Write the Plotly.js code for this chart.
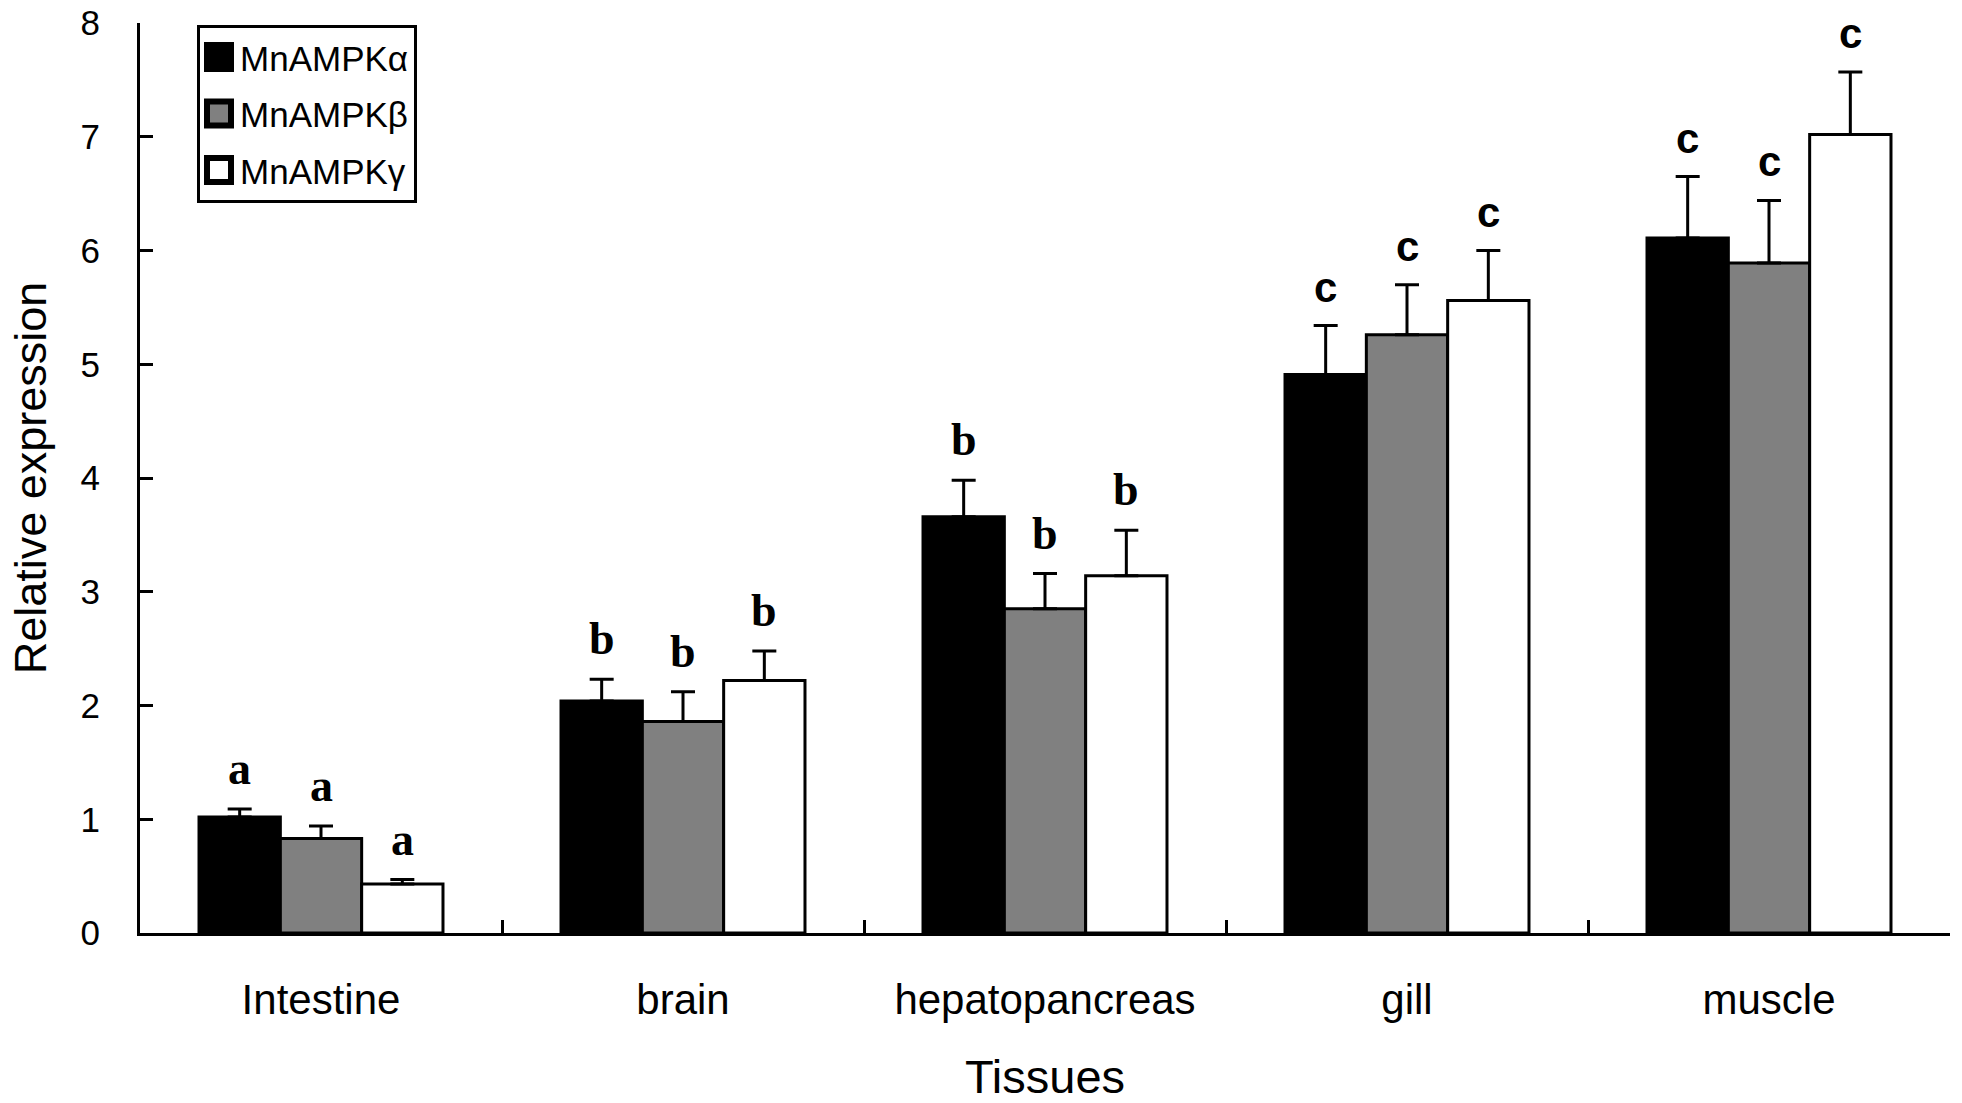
<!DOCTYPE html>
<html>
<head>
<meta charset="utf-8">
<script src="https://cdn.plot.ly/plotly-3.0.1.min.js"></script>
<style>
  body { margin: 0; background: #fff; }
  #chart { width: 1962px; height: 1103px; }
</style>
</head>
<body>
<div id="chart"></div>
<script>
// tissues on the x axis
var tissues = ['Intestine', 'brain', 'hepatopancreas', 'gill', 'muscle'];

// MnAMPK subunits, relative expression and upper error
var alphaVals = [1.02, 2.04, 3.66, 4.91, 6.11];
var alphaErr  = [0.07, 0.19, 0.32, 0.43, 0.54];
var betaVals  = [0.83, 1.86, 2.85, 5.26, 5.89];
var betaErr   = [0.11, 0.26, 0.31, 0.44, 0.55];
var gammaVals = [0.43, 2.22, 3.14, 5.56, 7.02];
var gammaErr  = [0.04, 0.26, 0.40, 0.44, 0.55];

// significance letters
var alphaLetters = ['a', 'b', 'b', 'c', 'c'];
var betaLetters  = ['a', 'b', 'b', 'c', 'c'];
var gammaLetters = ['a', 'b', 'b', 'c', 'c'];

var zeros = [0, 0, 0, 0, 0];
var bargap = 0.326;

function barTrace(name, vals, err, fill, group) {
  return {
    type: 'bar',
    name: name,
    x: tissues,
    y: vals,
    legendgroup: group,
    marker: { color: fill, line: { color: '#000', width: 3 } },
    error_y: {
      type: 'data', symmetric: false, array: err, arrayminus: zeros,
      color: '#000', thickness: 3, width: 12
    },
    hoverinfo: 'x+y'
  };
}

var data = [
  barTrace('MnAMPKα', alphaVals, alphaErr, '#000000', 'g1'),
  barTrace('MnAMPKβ', betaVals, betaErr, '#808080', 'g2'),
  barTrace('MnAMPKγ', gammaVals, gammaErr, '#ffffff', 'g3')
];

// the figure mixes a serif a/b with a sans c
function letterFont(t) {
  if (t === 'c') return { family: 'Liberation Sans', size: 42, color: '#000', weight: 'bold' };
  return { family: 'Liberation Serif', size: 46, color: '#000', weight: 'bold' };
}

// letters above each error bar, placed in category units
var annotations = [];
var sets = [[alphaVals, alphaErr, alphaLetters],
            [betaVals, betaErr, betaLetters],
            [gammaVals, gammaErr, gammaLetters]];
var bw = (1 - bargap) / 3;
sets.forEach(function (s, k) {
  for (var i = 0; i < tissues.length; i++) {
    annotations.push({
      x: i + (k - 1) * bw,
      y: s[0][i] + s[1][i],
      xref: 'x', yref: 'y',
      text: s[2][i],
      showarrow: false,
      yanchor: 'bottom',
      yshift: 13,
      font: letterFont(s[2][i])
    });
  }
});

var layout = {
  width: 1962,
  height: 1103,
  margin: { l: 140, r: 12, t: 23, b: 170 },
  paper_bgcolor: '#fff',
  plot_bgcolor: '#fff',
  barmode: 'group',
  bargap: bargap,
  bargroupgap: 0,
  font: { family: 'Liberation Sans', color: '#000' },
  showlegend: true,
  legend: {
    x: 0.0315, y: 0.998, xanchor: 'left', yanchor: 'top',
    bgcolor: '#fff', bordercolor: '#000', borderwidth: 3,
    font: { family: 'Liberation Sans', size: 35, color: '#000' },
    tracegroupgap: 8,
    traceorder: 'grouped'
  },
  xaxis: {
    type: 'category',
    showline: true, linecolor: '#000', linewidth: 3,
    ticks: 'inside', tickson: 'boundaries', ticklen: 13, tickwidth: 3, tickcolor: '#000',
    ticklabelstandoff: 28,
    tickfont: { family: 'Liberation Sans', size: 42, color: '#000' },
    showgrid: false, zeroline: false,
    title: { text: 'Tissues', font: { family: 'Liberation Sans', size: 47, color: '#000' }, standoff: 48 }
  },
  yaxis: {
    range: [0, 8],
    dtick: 1,
    showline: true, linecolor: '#000', linewidth: 3,
    ticks: 'inside', ticklen: 13, tickwidth: 3, tickcolor: '#000',
    ticklabelstandoff: 30,
    tickfont: { family: 'Liberation Sans', size: 35, color: '#000' },
    showgrid: false, zeroline: false,
    title: { text: 'Relative expression', font: { family: 'Liberation Sans', size: 45, color: '#000' }, standoff: 20 }
  },
  annotations: annotations
};

Plotly.newPlot('chart', data, layout, { displayModeBar: false, staticPlot: true }).then(function (gd) {
  // make the legend swatches as large as in the figure
  gd.querySelectorAll('.legend .legendpoints path').forEach(function (p) {
    p.setAttribute('transform', 'translate(19,0) scale(2)');
  });
});
</script>
</body>
</html>
